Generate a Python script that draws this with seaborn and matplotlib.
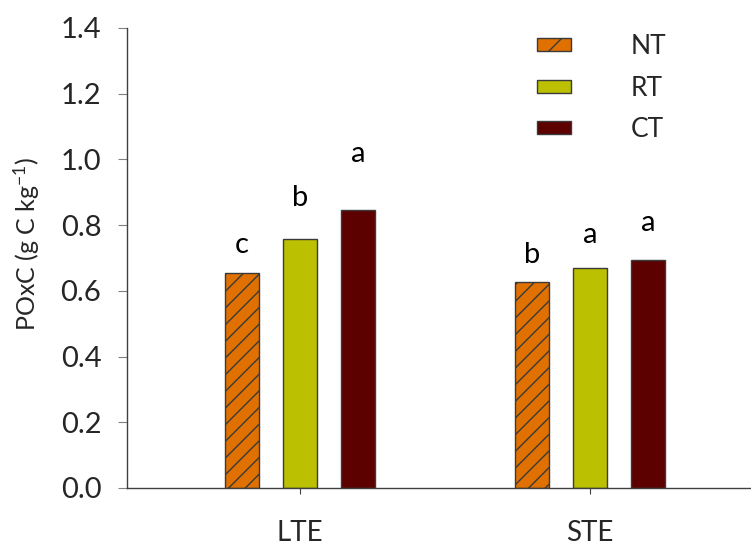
import matplotlib
matplotlib.use("Agg")
import matplotlib.pyplot as plt
import seaborn as sns
import pandas as pd
from matplotlib.patches import Patch

# Permanganate-oxidizable carbon by experiment and tillage system
sites = ["LTE", "STE"]
tillage = ["NT", "RT", "CT"]
poxc_lte = [0.655, 0.757, 0.846]
poxc_ste = [0.627, 0.669, 0.693]

# Mean-separation letters and the height at which each is written
letters_lte = ["c", "b", "a"]
letters_ste = ["b", "a", "a"]
letter_y_lte = [0.715, 0.858, 0.993]
letter_y_ste = [0.686, 0.746, 0.783]

colors = ["#E07000", "#BBC000", "#5C0000"]
edge = "#3a3a3a"

df = pd.DataFrame({
    "site": [s for s in sites for _ in tillage],
    "tillage": tillage * len(sites),
    "poxc": poxc_lte + poxc_ste,
})

sns.set_style("ticks")
plt.rcParams["font.family"] = ["Lato", "DejaVu Sans"]
plt.rcParams["mathtext.default"] = "regular"
plt.rcParams["hatch.linewidth"] = 1.0
plt.rcParams["hatch.color"] = "#1a1a1a"

fig = plt.figure(figsize=(7.51, 5.49), dpi=100)
ax = fig.add_axes([127 / 751, 1 - 488 / 549, (750 - 127) / 751, 460 / 549])

sns.barplot(data=df, x="site", y="poxc", hue="tillage", order=sites,
            hue_order=tillage, palette=colors, width=0.6, gap=0.4,
            edgecolor=edge, linewidth=1.0, saturation=1, errorbar=None,
            legend=False, ax=ax)

# Hatch the no-till bars
for p in ax.containers[0]:
    p.set_hatch("//")

# Letters above each bar
letters = {"LTE": (letters_lte, letter_y_lte), "STE": (letters_ste, letter_y_ste)}
for k, cont in enumerate(ax.containers):
    for j, p in enumerate(cont):
        labs, ys = letters[sites[j]]
        ax.text(p.get_x() + p.get_width() / 2, ys[k], labs[k],
                ha="center", va="baseline", fontsize=21, color="black")

ax.set_xlim(-0.597, 1.552)
ax.set_ylim(0, 1.4)
ax.set_yticks([0.0, 0.2, 0.4, 0.6, 0.8, 1.0, 1.2, 1.4])
ax.set_yticklabels([f"{v:.1f}" for v in ax.get_yticks()])
ax.set_xlabel("")
ax.set_ylabel("POxC (g C kg$^{-1}$)", fontsize=18)
ax.yaxis.set_label_coords(-0.136, 0.53)

for side in ["top", "right"]:
    ax.spines[side].set_visible(False)
for side in ["left", "bottom"]:
    ax.spines[side].set_color("#404040")
    ax.spines[side].set_linewidth(1.0)

ax.tick_params(axis="y", direction="out", length=6.5, width=0.8,
               color="#808080", labelsize=21, pad=12)
ax.tick_params(axis="x", direction="out", length=4.3, width=0.8,
               color="#404040", labelsize=20, pad=18.5)

handles = [Patch(facecolor=c, edgecolor=edge, hatch=h)
           for c, h in zip(colors, ["/", "", ""])]
fig.legend(handles, tillage, loc="upper left",
           bbox_to_anchor=(537 / 751, 1 - 34 / 549), frameon=False,
           fontsize=19, handlelength=1.29, handleheight=0.38,
           handletextpad=2.27, labelspacing=0.63, borderpad=0,
           borderaxespad=0)

fig.savefig("out.png", dpi=100)
